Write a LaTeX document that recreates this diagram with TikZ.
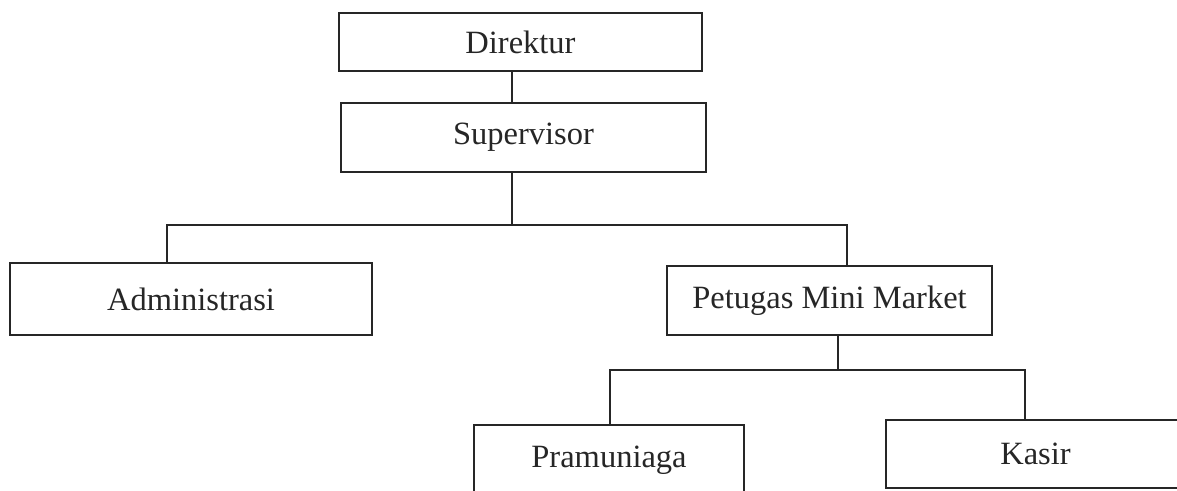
\documentclass[tikz,border=0pt]{standalone}
\usepackage{fontspec}
\setmainfont{Liberation Serif}
\begin{document}
\begin{tikzpicture}[x=1pt,y=-1pt,
  box/.style={draw=black!85,line width=1.6pt,rectangle,inner sep=0pt,outer sep=0pt,
    font=\fontsize{32.5}{38}\selectfont,text=black!85},
  conn/.style={draw=black!85,line width=1.6pt}]
\useasboundingbox (0,0) rectangle (1177,490);
\node[box,minimum width=363pt,minimum height=58pt] (dir) at (520.5,42) {Direktur};
\node[box,minimum width=365pt,minimum height=69pt] (sup) at (523.5,137.5) {Supervisor};
\node[box,minimum width=362pt,minimum height=72pt] (adm) at (191,299) {Administrasi};
\node[box,minimum width=325pt,minimum height=69pt] (pmm) at (829.5,300.5) {Petugas Mini Market};
\node[box,minimum width=270pt,minimum height=70pt] (pra) at (609,460) {Pramuniaga};
\node[box,minimum width=299pt,minimum height=68pt] (kas) at (1035.5,454) {Kasir};
\coordinate (j1) at (512,225);
\coordinate (ja) at (167,225);
\coordinate (jp) at (847,225);
\coordinate (jb) at (838,370);
\coordinate (jpr) at (610,370);
\coordinate (jk) at (1025,370);
\draw[conn] (dir.south -| j1) -- (sup.north -| j1);
\draw[conn] (sup.south -| j1) -- (j1);
\draw[conn] (adm.north -| ja) -- (ja) -- (jp) -- (pmm.north -| jp);
\draw[conn] (pmm.south -| jb) -- (jb);
\draw[conn] (pra.north -| jpr) -- (jpr) -- (jk) -- (kas.north -| jk);
\end{tikzpicture}
\end{document}
